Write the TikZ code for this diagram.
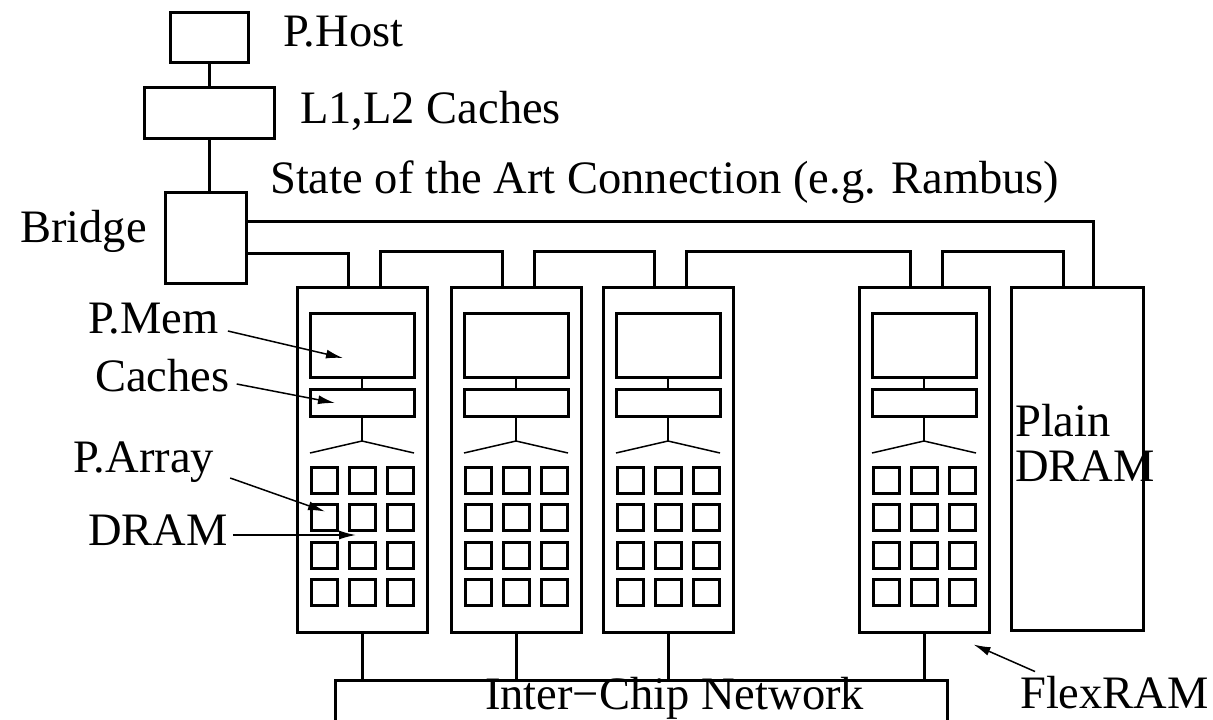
\documentclass[tikz,border=0pt]{standalone}
\usepackage{fontspec}
\setmainfont{Liberation Serif}
\usetikzlibrary{arrows.meta, calc}

\begin{document}
\begin{tikzpicture}[x=1pt, y=-1pt, >=Latex,
    box/.style={draw, line width=3pt, inner sep=0pt},
    cell/.style={draw, line width=3pt, inner sep=0pt,
                 minimum width=26pt, minimum height=26pt},
    bus/.style={line width=3pt},
    wire/.style={line width=2pt},
    fan/.style={line width=1.5pt},
    pointer/.style={-{Latex[length=17pt,width=9pt]}, line width=1.5pt},
    lab/.style={anchor=base west, inner sep=0pt, font=\fontsize{46.5}{45}\selectfont},
]
\useasboundingbox (0,0) rectangle (1213,720);

% ================= host side =================
\node[box, minimum width=78pt, minimum height=50pt] (host) at (209,37) {};
\node[box, minimum width=130pt, minimum height=51pt] (l12) at (209,112.5) {};
\node[box, minimum width=81pt, minimum height=91pt] (bridge) at (206,237.5) {};
\draw[bus] (host.south) -- (host.south |- l12.north);
\draw[bus] (l12.south) -- (l12.south |- bridge.north);

\node[lab] (lhost) at (283,46) {P.Host};
\node[lab] (lcache) at (300,123) {L1,L2 Caches};
\node[lab] (lstate) at (270,193) {State of the Art Connection (e.g. Rambus)};
\node[lab] (lbridge) at (20,242) {Bridge};

% ================= FlexRAM chips =================
\foreach \n/\cx in {c1/362, c2/516, c3/668, c4/924}{
    \node[box, minimum width=130pt, minimum height=345pt] (\n) at (\cx,459.5) {};
    \node[box, minimum width=104pt, minimum height=64pt] (\n-mem) at (\cx,345) {};
    \node[box, minimum width=104pt, minimum height=27pt] (\n-cache) at (\cx,402.5) {};
    \coordinate (\n-top) at (\cx,441);
    \draw[wire] (\n-mem.south) -- (\n-cache.north);
    \draw[wire] (\n-cache.south) -- (\n-top);
    \draw[fan] ($(\n-top)+(-52,12)$) -- (\n-top) -- ($(\n-top)+(52,12)$);
    \foreach \i in {0,1,2}{
        \foreach \j in {0,...,3}{
            \node[cell] (\n-\i\j) at ({\cx+38*\i-38},{480+37.5*\j}) {};
        }
    }
}

% plain memory chip
\node[box, minimum width=132pt, minimum height=343pt] (pd) at (1077,458.5) {};
\node[lab] (lplain) at (1015,436) {Plain};
\node[lab] (lpdram) at (1015,481) {DRAM};

% ================= buses =================
\coordinate (busA) at (0,221);
\coordinate (busB) at (0,253);
\draw[bus] (bridge.east |- busA) -| ($(pd.north)+(16,0)$);
\draw[bus] (bridge.east |- busB) -| ($(c1.north)+(-14,0)$);
\foreach \a/\b in {c1/c2, c2/c3, c3/c4, c4/pd}{
    \draw[bus] ($(\a.north)+(18,0)$) -- ++(0,-34) -| ($(\b.north)+(-14,0)$);
}

\node[box, minimum width=612pt, minimum height=42pt] (net) at (641,701) {};
\node[lab] (lnet) at (485,709) {Inter−Chip Network};
\foreach \n in {c1,c2,c3,c4}{
    \draw[bus] (\n.south) -- (\n.south |- net.north);
}

% ================= labels with arrows =================
\node[lab] (lmem) at (88,333) {P.Mem};
\node[lab] (lcch) at (95,391) {Caches};
\node[lab] (larr) at (73,472) {P.Array};
\node[lab] (ldram) at (88,545) {DRAM};
\node[lab] (lflex) at (1020,708) {FlexRAM};

\coordinate (tmem) at ($(c1-mem)+(-19,13)$);
\coordinate (tcch) at ($(c1-cache)+(-27,0.5)$);
\coordinate (tarr) at ($(c1-01)+(1,-6)$);
\coordinate (tdram) at ($(c1-11)+(-6,17.5)$);
\coordinate (tflex) at ($(c4.south east)+(-17,11)$);

\draw[pointer] ([xshift=9pt,yshift=2pt]lmem.base east) -- (tmem);
\draw[pointer] ([xshift=7pt,yshift=7pt]lcch.base east) -- (tcch);
\draw[pointer] ([xshift=16pt,yshift=-6pt]larr.base east) -- (tarr);
\draw[pointer] ([xshift=5pt,yshift=10pt]ldram.base east) -- (tdram);
\draw[pointer] ([xshift=15pt,yshift=4pt]lflex.north west) -- (tflex);

\end{tikzpicture}
\end{document}
